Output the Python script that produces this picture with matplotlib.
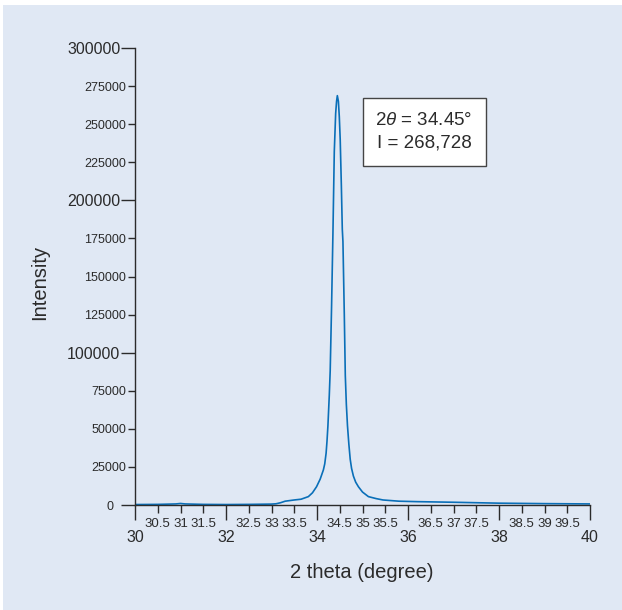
import matplotlib
matplotlib.use("Agg")
import matplotlib.pyplot as plt
import matplotlib.transforms as mtransforms
from matplotlib.patches import Rectangle
from matplotlib.ticker import MultipleLocator, FuncFormatter

plt.rcParams['font.family'] = ['Liberation Sans', 'DejaVu Sans']
plt.rcParams['mathtext.fontset'] = 'custom'
plt.rcParams['mathtext.it'] = 'Liberation Sans:italic'
plt.rcParams['mathtext.rm'] = 'Liberation Sans'

# XRD pattern, values
two_theta = [30.0, 30.5, 30.9, 31.0, 31.1, 31.5, 32.0, 32.5, 33.0, 33.1, 33.2,
             33.3, 33.5, 33.65, 33.81, 33.90, 33.99, 34.07, 34.14, 34.17, 34.20,
             34.22, 34.24, 34.27, 34.29, 34.32, 34.35, 34.38, 34.41, 34.43,
             34.447, 34.47, 34.49, 34.51, 34.535, 34.556, 34.57, 34.60, 34.622,
             34.645, 34.67, 34.70, 34.73, 34.76, 34.80, 34.85, 34.91, 35.0,
             35.13, 35.3, 35.45, 35.8, 36.2, 37.0, 38.0, 39.0, 40.0]
intensity = [300, 400, 700, 1000, 700, 400, 300, 400, 600, 800, 1500,
             2500, 3300, 3800, 5500, 8000, 12000, 17000, 23000, 27000, 34000,
             42000, 52000, 72000, 88000, 130000, 178000, 232000, 257000, 265000,
             268728, 265000, 255000, 240000, 210000, 181000, 173000, 125000, 85000,
             66000, 52000, 40000, 30000, 24000, 19000, 15000, 12000, 8500,
             5500, 4200, 3300, 2500, 2200, 1800, 1200, 900, 700]

peak_label = "2$\\mathit{\\theta}$ = 34.45°\nI = 268,728"

bg = '#e0e8f4'
ink = '#2b2b2b'

fig = plt.figure(figsize=(6.22, 6.10), dpi=100, facecolor='white')
fig.patches.append(Rectangle((3 / 622, 0), 1, 1 - 5 / 610, transform=fig.transFigure,
                             facecolor=bg, edgecolor='none', zorder=-10))

ax = fig.add_axes([135 / 622, 105 / 610, 455 / 622, 457 / 610])
ax.patch.set_visible(False)

ax.plot(two_theta, intensity, color='#0a6fb8', lw=1.2, solid_joinstyle='round')

ax.set_xlim(30, 40)
ax.set_ylim(0, 300000)

for s in ['top', 'right']:
    ax.spines[s].set_visible(False)
for s in ['left', 'bottom']:
    ax.spines[s].set_color(ink)
    ax.spines[s].set_linewidth(1.0)

ax.xaxis.set_major_locator(MultipleLocator(2))
ax.xaxis.set_minor_locator(MultipleLocator(0.5))
ax.xaxis.set_major_formatter(FuncFormatter(lambda v, p: f"{v:g}"))
ax.xaxis.set_minor_formatter(FuncFormatter(lambda v, p: f"{v:g}"))
ax.yaxis.set_major_locator(MultipleLocator(100000))
ax.yaxis.set_minor_locator(MultipleLocator(25000))
ax.yaxis.set_major_formatter(FuncFormatter(lambda v, p: f"{int(v)}"))
ax.yaxis.set_minor_formatter(FuncFormatter(lambda v, p: f"{int(v)}"))

ax.tick_params(axis='x', which='major', length=10.8, width=1.0, color=ink,
               labelsize=11.5, pad=7.5, labelcolor=ink)
ax.tick_params(axis='x', which='minor', length=5.8, width=1.0, color=ink,
               labelsize=9.5, pad=3.5, labelcolor=ink)
ax.tick_params(axis='y', which='major', length=10, width=1.0, color=ink,
               labelsize=11.5, pad=0.5, labelcolor=ink)
ax.tick_params(axis='y', which='minor', length=5, width=1.0, color=ink,
               labelsize=9, pad=1.5, labelcolor=ink)

# the zero label is drawn small and further from the axis
fig.canvas.draw()
for lab in ax.get_yticklabels():
    if lab.get_text() == '0':
        lab.set_fontsize(9)
        lab.set_transform(lab.get_transform() +
                          mtransforms.ScaledTranslation(-5 / 72, 0, fig.dpi_scale_trans))

fig.text(40 / 622, 1 - 282 / 610, 'Intensity', rotation=90, fontsize=14.5,
         ha='center', va='center', color=ink)
fig.text(362 / 622, 1 - 572 / 610, '2 theta (degree)', fontsize=14.5,
         ha='center', va='center', color=ink)

# peak annotation box
fig.patches.append(Rectangle((363 / 622, 1 - 166 / 610), 123 / 622, 68 / 610,
                             transform=fig.transFigure, facecolor='white',
                             edgecolor='#444444', lw=1.0, zorder=5))
fig.text(424 / 622, 1 - 132 / 610, peak_label, fontsize=13.5, ha='center',
         va='center', color=ink, linespacing=1.45, zorder=6)

fig.savefig('out.png', dpi=100, facecolor='white')
